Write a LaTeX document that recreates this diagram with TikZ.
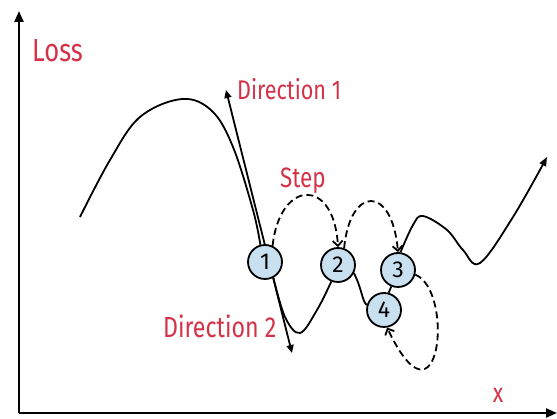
\documentclass[tikz,border=0pt]{standalone}
\usepackage{fontspec}
\usepackage{tikz}
\usetikzlibrary{arrows.meta}
\setsansfont{Fira Sans}
\newfontfamily\handfont{Fira Sans}[FakeStretch=0.8]
\definecolor{lossred}{RGB}{212,50,72}
\definecolor{stepblue}{RGB}{200,224,240}

\begin{document}
\begin{tikzpicture}[x=1pt,y=1pt,
    hand/.style={text=lossred,inner sep=0pt,anchor=base west},
    stepnode/.style={circle,draw,line width=1.8pt,fill=stepblue,
      minimum size=34pt,inner sep=0pt,font=\sffamily\fontsize{23}{25}\selectfont},
    steparrow/.style={line width=1.8pt,dash pattern=on 7pt off 4pt,
      -{Straight Barb[length=5pt,width=10pt]}},
    curve/.style={line width=1.8pt}]
  \useasboundingbox (0,0) rectangle (557,419);
  % axes
  \draw[line width=2.2pt,-{Triangle[length=11pt,width=9pt]}] (19,6) -- (19,408);
  \draw[line width=2.2pt,-{Triangle[length=11pt,width=9pt]}] (19,6) -- (557,6);
  \node[hand,font=\handfont\fontsize{32}{34}\selectfont] (losslabel) at (32,357) {Loss};
  \node[hand,anchor=center,font=\handfont\fontsize{27}{30}\selectfont] (xlabel) at (498,24) {x};
  % directions
  \coordinate (dirup) at (226,329);
  \coordinate (dirdown) at (292,66);
  \draw[line width=1.8pt,{Triangle[length=8pt,width=7pt]}-{Triangle[length=8pt,width=7pt]}]
    (dirdown) -- (dirup);
  \node[hand,font=\handfont\fontsize{27}{30}\selectfont] (dirlabelup) at (237,319) {Direction 1};
  \node[hand,font=\handfont\fontsize{29}{32}\selectfont] (dirlabeldown) at (163,81) {Direction 2};
  % steps
  \node[stepnode] (n1) at (265,157) {1};
  \node[stepnode] (n2) at (338,154) {2};
  \node[stepnode] (n3) at (398,149) {3};
  \node[stepnode] (n4) at (384,109) {4};
  % loss curve
  \draw[curve] plot[smooth,tension=0.6] coordinates {(80,202) (110,259) (140,302)
    (182,320) (212,308) (233,272) (253,209) (n1.105)};
  \draw[curve] plot[smooth,tension=0.6] coordinates {(n1.-62) (285,102) (300,86)
    (317,109) (n2.-112)};
  \draw[curve] (n2.-27) .. controls (362,130) and (362,118) .. (n4.164);
  \draw[curve] (n4.75) -- (n3.-112);
  \draw[curve,-{Triangle[length=9pt,width=7pt]}] plot[smooth,tension=0.6]
    coordinates {(n3.82) (413,194) (423,203) (447,189) (463,169) (480,156)
    (513,202) (547,262)};
  % step arrows
  \draw[steparrow] (n1.65) .. controls (280,240) and (334,242) .. (n2.north);
  \draw[steparrow] (n2.70) .. controls (350,233) and (392,235) .. (n3.north);
  \draw[steparrow] (n3.-15) .. controls (455,128) and (440,-20) .. (n4.-80);
  \node[hand,font=\handfont\fontsize{28}{30}\selectfont] (steplabel) at (280,231) {Step};
\end{tikzpicture}
\end{document}
